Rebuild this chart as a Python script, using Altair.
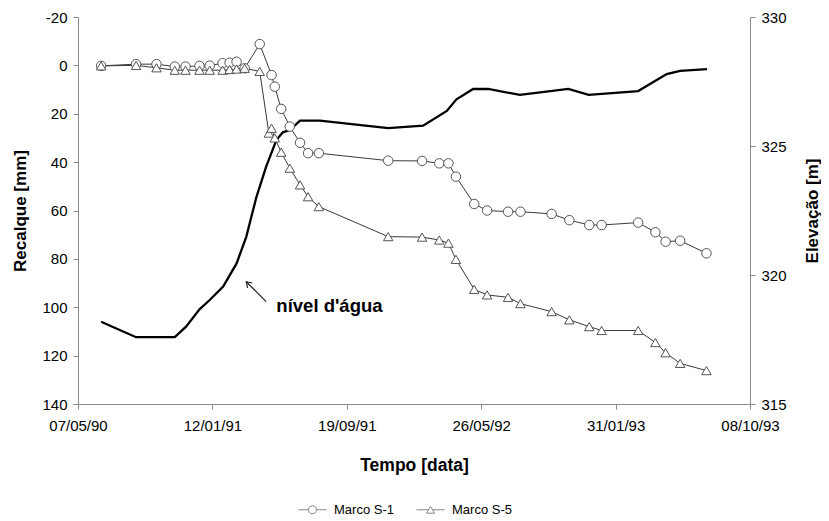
import altair as alt
import pandas as pd

FONT = "Liberation Sans"

# ---- Marco S-1 (recalque, mm) ----
datas_s1 = ["1990-06-19", "1990-08-23", "1990-09-30", "1990-11-03", "1990-11-23", "1990-12-19",
            "1991-01-07", "1991-01-31", "1991-02-13", "1991-02-26", "1991-03-13", "1991-04-10",
            "1991-05-02", "1991-05-08", "1991-05-20", "1991-06-05", "1991-06-24", "1991-07-09",
            "1991-07-29", "1991-12-05", "1992-02-06", "1992-03-09", "1992-03-26", "1992-04-09",
            "1992-05-13", "1992-06-06", "1992-07-15", "1992-08-07", "1992-10-04", "1992-11-06",
            "1992-12-13", "1993-01-05", "1993-03-14", "1993-04-15", "1993-05-04", "1993-05-31",
            "1993-07-19"]
recalque_s1 = [0.2, -0.5, -0.5, 0.5, 0.5, 0.2,
               0.1, -0.9, -1.1, -1.5, 1.2, -8.8,
               4.0, 8.8, 18.0, 25.3, 32.0, 36.3,
               36.3, 39.4, 39.5, 40.5, 40.5, 46.0,
               57.3, 60.0, 60.5, 60.5, 61.4, 64.0,
               66.0, 66.0, 65.0, 69.0, 72.9, 72.5,
               77.7]

# ---- Marco S-5 (recalque, mm) ----
datas_s5 = ["1990-06-19", "1990-08-23", "1990-09-30", "1990-11-03", "1990-11-23", "1990-12-19",
            "1991-01-07", "1991-01-31", "1991-02-13", "1991-02-26", "1991-03-13", "1991-04-10",
            "1991-04-27", "1991-05-02", "1991-05-08", "1991-05-20", "1991-06-05", "1991-06-24",
            "1991-07-09", "1991-07-29", "1991-12-05", "1992-02-06", "1992-03-09", "1992-03-26",
            "1992-04-09", "1992-05-13", "1992-06-06", "1992-07-15", "1992-08-07", "1992-10-04",
            "1992-11-06", "1992-12-13", "1993-01-05", "1993-03-14", "1993-04-15", "1993-05-04",
            "1993-05-31", "1993-07-19"]
recalque_s5 = [0.2, 0.0, 1.0, 2.0, 2.0, 2.0,
               2.0, 2.0, 1.7, 1.5, 1.2, 2.5,
               28.0, 26.0, 30.0, 35.9, 42.5, 49.4,
               54.3, 58.4, 70.8, 71.0, 72.2, 73.5,
               80.2, 92.6, 94.9, 95.9, 98.5, 101.8,
               105.2, 108.0, 109.6, 109.6, 114.6, 118.8,
               123.2, 126.2]

# ---- nível d'água (elevação, m) ----
datas_na = ["1990-06-19", "1990-08-23", "1990-09-30", "1990-11-03", "1990-11-24", "1990-12-19",
            "1991-01-07", "1991-02-01", "1991-02-26", "1991-03-16", "1991-04-04", "1991-04-22",
            "1991-05-11", "1991-05-23", "1991-06-05", "1991-06-24", "1991-07-12", "1991-07-31",
            "1991-12-05", "1992-02-08", "1992-03-23", "1992-04-10", "1992-05-11", "1992-06-08",
            "1992-08-06", "1992-11-04", "1992-12-12", "1993-03-14", "1993-05-06", "1993-05-31",
            "1993-07-20"]
elevacao_na = [318.19, 317.59, 317.59, 317.59, 318.0, 318.67,
               319.03, 319.55, 320.45, 321.48, 323.03, 324.20,
               325.23, 325.53, 325.62, 325.98, 325.98, 325.98,
               325.69, 325.79, 326.36, 326.81, 327.21, 327.21,
               326.98, 327.21, 326.98, 327.13, 327.79, 327.91,
               327.98]

series_names = ["Marco S-1", "Marco S-5"]

# annotation (arrow + label) in data units
seta_data = ["1991-04-22", "1991-03-16"]   # tail, tip
seta_elev = [318.97, 319.74]
rotulo_texto = "nível d'água"
rotulo_data = "1991-05-11"
rotulo_elev = 318.58

x_ticks = [(1990, 5, 7), (1991, 1, 12), (1991, 9, 19), (1992, 5, 26), (1993, 1, 31), (1993, 10, 8)]
y_left_ticks = [-20, 0, 20, 40, 60, 80, 100, 120, 140]
y_right_ticks = [315, 320, 325, 330]

# ---- tables ----
df_s1 = pd.DataFrame({"data": datas_s1, "recalque": recalque_s1, "serie": series_names[0]})
df_s5 = pd.DataFrame({"data": datas_s5, "recalque": recalque_s5, "serie": series_names[1]})
df_series = pd.concat([df_s1, df_s5], ignore_index=True)
df_na = pd.DataFrame({"data": datas_na, "elev": elevacao_na})
df_seta = pd.DataFrame({"data": [seta_data[0]], "elev": [seta_elev[0]],
                        "data2": [seta_data[1]], "elev2": [seta_elev[1]]})
df_ponta = pd.DataFrame({"data": [seta_data[1]], "elev": [seta_elev[1]]})
df_rotulo = pd.DataFrame({"data": [rotulo_data], "elev": [rotulo_elev], "txt": [rotulo_texto]})

GREY = "#8a8a8a"

def dt(t):
    return alt.DateTime(year=t[0], month=t[1], date=t[2], utc=True)

x_scale = alt.Scale(type="utc", domain=[dt(x_ticks[0]), dt(x_ticks[-1])], nice=False)
x_axis = alt.Axis(values=[dt(t) for t in x_ticks],
                  labelExpr="utcFormat(datum.value, '%d/%m/%y')",
                  title="Tempo [data]", grid=False, labelFontSize=15, labelFont=FONT,
                  labelColor="black", labelPadding=9, tickSize=5, tickColor=GREY,
                  domainColor=GREY, titleFontSize=17.5, titleFontWeight="bold", titleFont=FONT,
                  titlePadding=23, titleColor="black", labelFlush=False, orient="bottom")

y_left_scale = alt.Scale(domain=[-20, 140], reverse=True, nice=False, zero=False)
y_left_axis = alt.Axis(values=y_left_ticks, labelExpr="'' + datum.value",
                       title="Recalque [mm]", orient="left", grid=False,
                       labelFontSize=15, labelFont=FONT, labelColor="black", labelPadding=6,
                       tickSize=5, tickColor=GREY, domainColor=GREY, titleFontSize=17,
                       titleFontWeight="bold", titleFont=FONT, titlePadding=12, titleColor="black")

y_right_scale = alt.Scale(domain=[315, 330], nice=False, zero=False)
y_right_axis = alt.Axis(values=y_right_ticks, labelExpr="'' + datum.value",
                        title="Elevação [m]", orient="right", grid=False,
                        labelFontSize=15, labelFont=FONT, labelColor="black", labelPadding=6,
                        tickSize=5, tickColor=GREY, domainColor=GREY, titleFontSize=17,
                        titleFontWeight="bold", titleFont=FONT, titlePadding=35,
                        titleColor="black", titleAngle=270)

X = alt.X("data:T", scale=x_scale, axis=x_axis)
Yr = alt.Y("elev:Q", scale=y_right_scale, axis=y_right_axis)
Yl = alt.Y("recalque:Q", scale=y_left_scale, axis=y_left_axis)

# ---- right (elevation) layer ----
agua = alt.Chart(df_na).mark_line(color="black", strokeWidth=2.3).encode(x=X, y=Yr)
seta = alt.Chart(df_seta).mark_rule(color="#222", strokeWidth=1.2).encode(
    x=X, x2="data2:T", y=Yr, y2="elev2:Q")
ponta = alt.Chart(df_ponta).mark_point(
    shape="M-0.55,0.85L0,0L0.55,0.85", size=150, filled=False, color="#222", strokeWidth=1.2,
    angle=315, opacity=1).encode(x=X, y=Yr)
rotulo = alt.Chart(df_rotulo).mark_text(
    align="left", baseline="alphabetic", font=FONT, fontSize=18.5, fontWeight="bold",
    color="black").encode(x=X, y=Yr, text="txt:N")
right = alt.layer(agua, seta, ponta, rotulo)

# ---- left (settlement) layer ----
linhas = alt.Chart(df_series).mark_line(color="#3a3a3a", strokeWidth=1).encode(
    x=X, y=Yl, detail="serie:N")
pts_s1 = alt.Chart(df_s1).mark_point(shape="circle", size=90, filled=True, fill="white",
                                     stroke="#555", strokeWidth=1, opacity=1).encode(x=X, y=Yl)
pts_s5 = alt.Chart(df_s5).mark_point(shape="triangle-up", size=90, filled=True, fill="white",
                                     stroke="#555", strokeWidth=1, opacity=1).encode(x=X, y=Yl)

sym_circ = "M-3.5,0L-1,0M1,0L3.5,0M-1,0A1,1,0,1,1,1,0A1,1,0,1,1,-1,0"
sym_tri = "M-3.5,0L-0.5,0M0.5,0L3.5,0M0,-0.866L-1,0.866L1,0.866Z"
leg = alt.Chart(df_series).mark_point(size=0, filled=False, color="#555", strokeWidth=1).encode(
    x=X, y=Yl,
    shape=alt.Shape("serie:N", scale=alt.Scale(domain=series_names, range=[sym_circ, sym_tri]),
                    legend=alt.Legend(title=None, orient="none", direction="horizontal",
                                      legendX=228, legendY=486, symbolSize=64,
                                      symbolStrokeColor="#555", symbolStrokeWidth=1,
                                      labelFont=FONT, labelFontSize=13, labelColor="black",
                                      labelOffset=15, columnPadding=20, padding=0)))
left = alt.layer(linhas, pts_s1, pts_s5, leg)

chart = alt.layer(right, left).resolve_scale(y="independent").properties(
    width=672, height=387,
    autosize=alt.AutoSizeParams(type="none"),
    padding={"left": 70, "top": 9, "right": 71, "bottom": 112},
).configure(font=FONT).configure_view(stroke=None)

chart.save("out.html", embed_options={"renderer": "svg", "actions": False})
